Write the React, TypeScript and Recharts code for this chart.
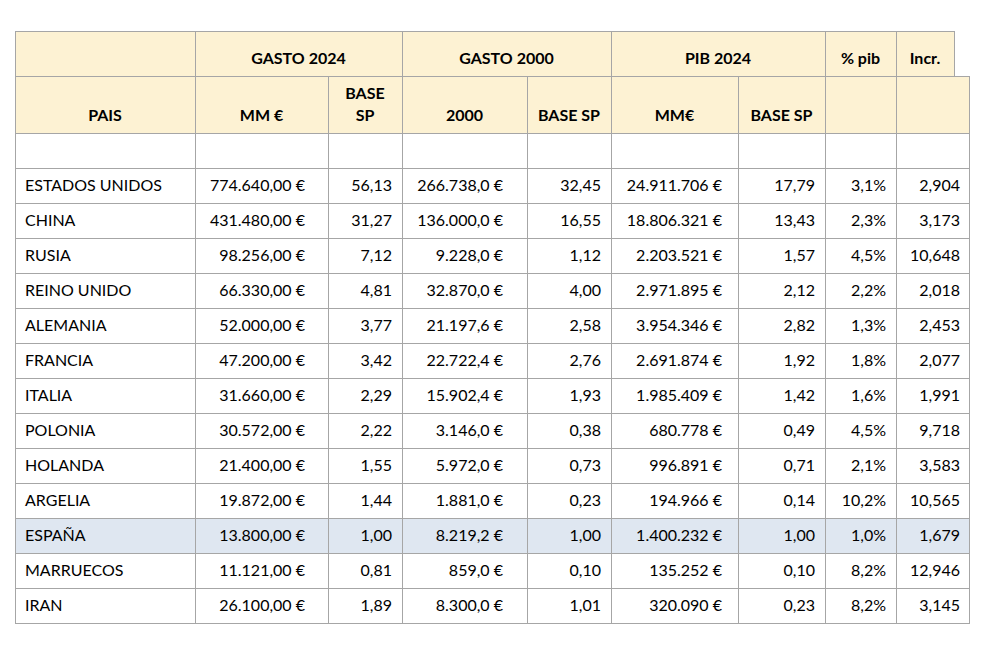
import { BarChart, Bar, XAxis, YAxis } from 'recharts'

const paises = ['ESTADOS UNIDOS', 'CHINA', 'RUSIA', 'REINO UNIDO', 'ALEMANIA', 'FRANCIA', 'ITALIA', 'POLONIA', 'HOLANDA', 'ARGELIA', 'ESPAÑA', 'MARRUECOS', 'IRAN']
const gasto2024 = [774640, 431480, 98256, 66330, 52000, 47200, 31660, 30572, 21400, 19872, 13800, 11121, 26100]
const base2024 = [56.13, 31.27, 7.12, 4.81, 3.77, 3.42, 2.29, 2.22, 1.55, 1.44, 1.0, 0.81, 1.89]
const gasto2000 = [266738.0, 136000.0, 9228.0, 32870.0, 21197.6, 22722.4, 15902.4, 3146.0, 5972.0, 1881.0, 8219.2, 859.0, 8300.0]
const base2000 = [32.45, 16.55, 1.12, 4.0, 2.58, 2.76, 1.93, 0.38, 0.73, 0.23, 1.0, 0.1, 1.01]
const pib2024 = [24911706, 18806321, 2203521, 2971895, 3954346, 2691874, 1985409, 680778, 996891, 194966, 1400232, 135252, 320090]
const basePib = [17.79, 13.43, 1.57, 2.12, 2.82, 1.92, 1.42, 0.49, 0.71, 0.14, 1.0, 0.1, 0.23]
const pctPib = [3.1, 2.3, 4.5, 2.2, 1.3, 1.8, 1.6, 4.5, 2.1, 10.2, 1.0, 8.2, 8.2]
const incr = [2.904, 3.173, 10.648, 2.018, 2.453, 2.077, 1.991, 9.718, 3.583, 10.565, 1.679, 12.946, 3.145]

const headerTop = ['', 'GASTO 2024', 'GASTO 2000', 'PIB 2024', '% pib', 'Incr.']
const headerSub = ['PAIS', 'MM €', 'BASE SP', '2000', 'BASE SP', 'MM€', 'BASE SP', '', '']
const highlight = 'ESPAÑA'

// layout
const topWidths = [180, 207, 209, 214, 71, 58]
const colWidths = [180, 133, 74, 125, 84, 127, 87, 71, 73]
const rightPad = [0, 23, 10, 24, 10, 16, 10, 10, 9]
const FONT = 'Lato, "Open Sans", sans-serif'
const SIZE = 16
const LINE = '#a6a6a6'
const BEIGE = '#fdf2d3'
const BLUE = '#dfe7f1'

const fmt = (n: number, dec: number) => {
  const [int, frac] = n.toFixed(dec).split('.')
  const grouped = int.replace(/\B(?=(\d{3})+(?!\d))/g, '.')
  return frac ? `${grouped},${frac}` : grouped
}

const bodyRows = [
  { id: 'blank', pais: '', cells: colWidths.map(() => '') },
  ...paises.map((p, i) => ({
    id: p,
    pais: p,
    cells: [
      p,
      `${fmt(gasto2024[i], 2)} €`,
      fmt(base2024[i], 2),
      `${fmt(gasto2000[i], 1)} €`,
      fmt(base2000[i], 2),
      `${fmt(pib2024[i], 0)} €`,
      fmt(basePib[i], 2),
      `${fmt(pctPib[i], 1)}%`,
      fmt(incr[i], 3),
    ],
  })),
]

const topRows = [{ id: 'top', cells: headerTop }]
const subRows = [{ id: 'sub', cells: headerSub }]

const TOTAL = colWidths.reduce((a, b) => a + b, 0)
const LEFT = 15

function cell(kind: 'top' | 'sub' | 'body', col: number) {
  return (p: any) => {
    const { x, y, width, height, payload } = p
    const text: string = payload.cells[col] || ''
    const fill = kind === 'body' ? (payload.pais === highlight ? BLUE : '#ffffff') : BEIGE
    let label = null
    if (kind === 'body') {
      const left = col === 0
      label = (
        <text
          x={left ? x + 10 : x + width - rightPad[col]}
          y={y + height / 2 - 1}
          textAnchor={left ? 'start' : 'end'}
          dominantBaseline="central"
          fontSize={SIZE}
          fill="#000"
        >
          {text}
        </text>
      )
    } else {
      const lines = kind === 'sub' && width < 80 && text.includes(' ') ? text.split(' ') : [text]
      const bottom = y + height
      label = (
        <text textAnchor="middle" fontSize={SIZE} fontWeight={700} fill="#000">
          {lines.map((l, k) => (
            <tspan key={k} x={x + width / 2} y={bottom - 18.5 - (lines.length - 1 - k) * 22} dominantBaseline="central">
              {l}
            </tspan>
          ))}
        </text>
      )
    }
    return (
      <g>
        <rect x={x + 0.5} y={y + 0.5} width={width} height={height} fill={fill} stroke={LINE} strokeWidth={1} />
        {label}
      </g>
    )
  }
}

function TableBand({ data, widths, height, kind }: { data: any[]; widths: number[]; height: number; kind: 'top' | 'sub' | 'body' }) {
  return (
    <BarChart
      width={993}
      height={height + 1}
      data={data}
      layout="vertical"
      barCategoryGap={0}
      barGap={0}
      margin={{ top: 0, right: 993 - LEFT - TOTAL, bottom: 1, left: LEFT }}
      style={{ fontFamily: FONT }}
    >
      <XAxis type="number" domain={[0, TOTAL]} hide />
      <YAxis type="category" dataKey="id" hide />
      {widths.map((w, i) => (
        <Bar
          key={i}
          dataKey={() => w}
          stackId="t"
          isAnimationActive={false}
          shape={cell(kind, i)}
        />
      ))}
    </BarChart>
  )
}

export default function App() {
  return (
    <div style={{ position: 'absolute', left: 0, top: 0, width: 993, height: 651, background: '#fff', fontFamily: FONT }}>
      <div style={{ position: 'absolute', left: 0, top: 31 }}>
        <TableBand data={topRows} widths={topWidths} height={45} kind="top" />
      </div>
      <div style={{ position: 'absolute', left: 0, top: 76 }}>
        <TableBand data={subRows} widths={colWidths} height={57} kind="sub" />
      </div>
      <div style={{ position: 'absolute', left: 0, top: 133 }}>
        <TableBand data={bodyRows} widths={colWidths} height={490} kind="body" />
      </div>
    </div>
  )
}
